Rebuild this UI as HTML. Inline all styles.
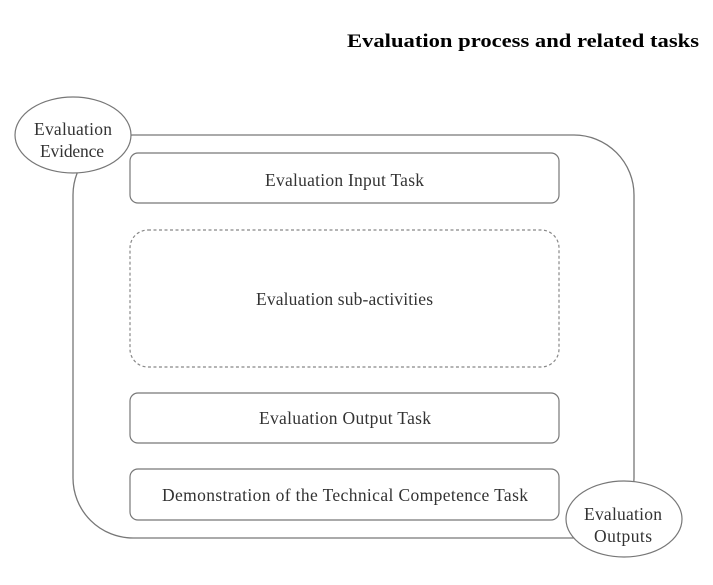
<!DOCTYPE html>
<html><head><meta charset="utf-8"><style>
html,body{margin:0;padding:0;background:#fff;}
svg{display:block;}
text{font-family:"Liberation Serif",serif;}
</style></head><body>
<svg width="713" height="585" viewBox="0 0 713 585" xmlns="http://www.w3.org/2000/svg">
<text x="347" y="47" font-size="19" font-weight="bold" fill="#000" textLength="352" lengthAdjust="spacingAndGlyphs">Evaluation process and related tasks</text>
<rect x="73" y="135" width="561" height="403" rx="60" ry="60" fill="none" stroke="#777" stroke-width="1.3"/>
<g fill="#fff" stroke="#777" stroke-width="1.2">
<rect x="130" y="153" width="429" height="50" rx="8"/>
<rect x="130" y="230" width="429" height="137" rx="18" stroke-dasharray="3,2.5" stroke="#888"/>
<rect x="130" y="393" width="429" height="50" rx="8"/>
<rect x="130" y="469" width="429" height="51" rx="8"/>
<ellipse cx="73" cy="135" rx="58" ry="38"/>
<ellipse cx="624" cy="519" rx="58" ry="38"/>
</g>
<g fill="#333" font-size="17.5" lengthAdjust="spacingAndGlyphs">
<text x="265" y="186" textLength="159">Evaluation Input Task</text>
<text x="256" y="305" textLength="177">Evaluation sub-activities</text>
<text x="259" y="424" textLength="172">Evaluation Output Task</text>
<text x="162" y="501" textLength="366">Demonstration of the Technical Competence Task</text>
<text x="34" y="135" textLength="78">Evaluation</text>
<text x="40" y="157" textLength="64">Evidence</text>
<text x="584" y="520" textLength="78">Evaluation</text>
<text x="594" y="542" textLength="58">Outputs</text>
</g>
</svg>
</body></html>
